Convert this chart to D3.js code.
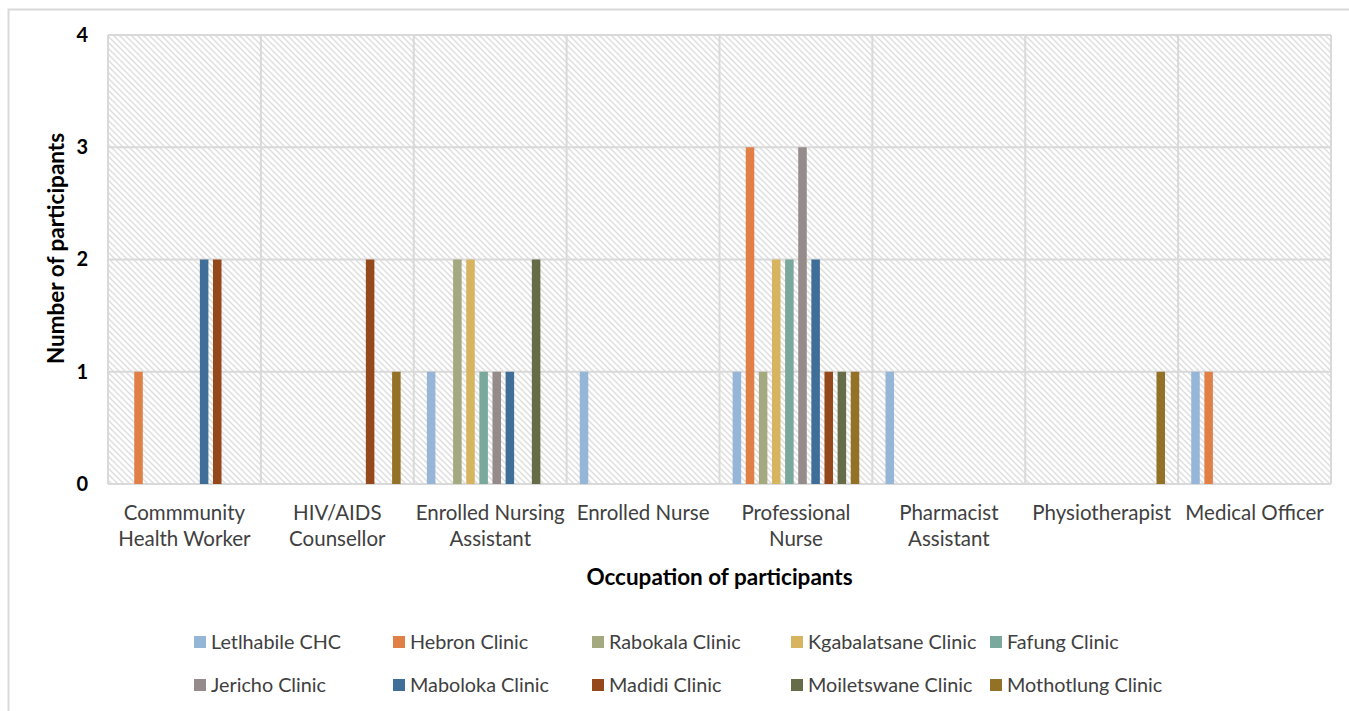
<!DOCTYPE html>
<html>
<head>
<meta charset="utf-8">
<script src="https://cdn.jsdelivr.net/npm/d3@7"></script>
<style>
  html, body { margin: 0; padding: 0; background: #ffffff; }
  svg { display: block; }
  text { font-family: Lato, "Open Sans", sans-serif; }
</style>
</head>
<body>
<svg id="chart" width="1349" height="711"></svg>
<script>
// Occupations along the x axis (labels wrap onto two lines)
const occupations = [
  "Commmunity Health Worker",
  "HIV/AIDS Counsellor",
  "Enrolled Nursing Assistant",
  "Enrolled Nurse",
  "Professional Nurse",
  "Pharmacist Assistant",
  "Physiotherapist",
  "Medical Officer"
];
const occupationLines = [
  ["Commmunity", "Health Worker"],
  ["HIV/AIDS", "Counsellor"],
  ["Enrolled Nursing", "Assistant"],
  ["Enrolled Nurse"],
  ["Professional", "Nurse"],
  ["Pharmacist", "Assistant"],
  ["Physiotherapist"],
  ["Medical Officer"]
];

// Clinics (one series each)
const clinics = [
  "Letlhabile CHC", "Hebron Clinic", "Rabokala Clinic", "Kgabalatsane Clinic", "Fafung Clinic",
  "Jericho Clinic", "Maboloka Clinic", "Madidi Clinic", "Moiletswane Clinic", "Mothotlung Clinic"
];
const clinicColors = [
  "#95b6d6", "#e07f46", "#a5a980", "#d7b45f", "#7aa89c",
  "#968b8b", "#3f6f98", "#95481c", "#666c48", "#937126"
];

// Participants per occupation, one array per clinic (same order as occupations)
const letlhabile   = [0, 0, 1, 1, 1, 1, 0, 1];
const hebron       = [1, 0, 0, 0, 3, 0, 0, 1];
const rabokala     = [0, 0, 2, 0, 1, 0, 0, 0];
const kgabalatsane = [0, 0, 2, 0, 2, 0, 0, 0];
const fafung       = [0, 0, 1, 0, 2, 0, 0, 0];
const jericho      = [0, 0, 1, 0, 3, 0, 0, 0];
const maboloka     = [2, 0, 1, 0, 2, 0, 0, 0];
const madidi       = [2, 2, 0, 0, 1, 0, 0, 0];
const moiletswane  = [0, 0, 2, 0, 1, 0, 0, 0];
const mothotlung   = [0, 1, 0, 0, 1, 0, 1, 0];
const seriesValues = [letlhabile, hebron, rabokala, kgabalatsane, fafung,
                      jericho, maboloka, madidi, moiletswane, mothotlung];

const yTicks = [0, 1, 2, 3, 4];
const yTitle = "Number of participants";
const xTitle = "Occupation of participants";

const svg = d3.select("#chart");
const plot = { left: 108, right: 1331, top: 35, bottom: 484 };

// Hatched plot background
const defs = svg.append("defs");
const pat = defs.append("pattern")
  .attr("id", "hatch")
  .attr("patternUnits", "userSpaceOnUse")
  .attr("width", 6).attr("height", 6);
pat.append("rect").attr("width", 6).attr("height", 6).attr("fill", "#ffffff");
pat.append("path")
  .attr("d", "M0,0 L6,6 M-1,5 L1,7 M5,-1 L7,1")
  .attr("stroke", "#dddddd").attr("stroke-width", 1.4);

// Chart frame (top and left edges visible)
svg.append("path")
  .attr("d", "M8.5,711 L8.5,9.5 L1349,9.5")
  .attr("fill", "none").attr("stroke", "#d9d9d9").attr("stroke-width", 2);

const x = d3.scaleBand().domain(occupations).range([plot.left, plot.right]).padding(0);
const xInner = d3.scaleBand().domain(clinics).range([0, x.bandwidth()])
  .paddingInner(0.35).paddingOuter(1.0);
const y = d3.scaleLinear().domain([0, 4]).range([plot.bottom, plot.top]);

svg.append("rect")
  .attr("x", plot.left).attr("y", plot.top)
  .attr("width", plot.right - plot.left).attr("height", plot.bottom - plot.top)
  .attr("fill", "url(#hatch)");

// Gridlines
const grid = svg.append("g").attr("stroke", "#d9d9d9").attr("stroke-width", 2);
grid.selectAll("line.h").data(yTicks).join("line")
  .attr("x1", plot.left).attr("x2", plot.right)
  .attr("y1", d => y(d)).attr("y2", d => y(d));
const vEdges = occupations.map(o => x(o)).concat([plot.right]);
grid.selectAll("line.v").data(vEdges).join("line")
  .attr("x1", d => d).attr("x2", d => d)
  .attr("y1", plot.top).attr("y2", plot.bottom);

// Bars
const groups = svg.append("g").selectAll("g")
  .data(occupations).join("g")
  .attr("transform", d => `translate(${x(d)},0)`);
groups.selectAll("rect")
  .data((occ, i) => clinics.map((c, j) => ({ clinic: c, value: seriesValues[j][i], color: clinicColors[j] })))
  .join("rect")
  .filter(d => d.value > 0)
  .attr("x", d => xInner(d.clinic))
  .attr("width", xInner.bandwidth())
  .attr("y", d => y(d.value))
  .attr("height", d => y(0) - y(d.value))
  .attr("fill", d => d.color);

// Y axis labels
const yAxis = d3.axisLeft(y).tickValues(yTicks).tickFormat(d3.format("d")).tickSize(0).tickPadding(20);
const yg = svg.append("g").attr("transform", `translate(${plot.left},0)`).call(yAxis);
yg.select(".domain").remove();
yg.selectAll("text")
  .attr("font-size", 20).attr("font-weight", "bold").attr("fill", "#000000")
  .style("font-family", "Lato, sans-serif");

// X axis labels
const xAxis = d3.axisBottom(x).tickSize(0).tickFormat("");
const xg = svg.append("g").attr("transform", `translate(0,${plot.bottom})`).call(xAxis);
xg.select(".domain").remove();
xg.selectAll(".tick").each(function(d, i) {
  const t = d3.select(this).append("text")
    .attr("text-anchor", "middle")
    .attr("fill", "#404040")
    .attr("font-size", 20.5);
  occupationLines[i].forEach((line, k) => {
    t.append("tspan").attr("x", 0).attr("y", 36 + k * 26).text(line);
  });
});

// Axis titles
svg.append("text")
  .attr("transform", `translate(64,${(plot.top + plot.bottom) / 2 - 11}) rotate(-90)`)
  .attr("text-anchor", "middle")
  .attr("font-size", 22.5).attr("font-weight", "bold").attr("fill", "#000000")
  .text(yTitle);
svg.append("text")
  .attr("x", (plot.left + plot.right) / 2).attr("y", 585)
  .attr("text-anchor", "middle")
  .attr("font-size", 22.5).attr("font-weight", "bold").attr("fill", "#000000")
  .text(xTitle);

// Legend: 5 columns x 2 rows
const legend = svg.append("g");
const legItems = legend.selectAll("g").data(clinics).join("g")
  .attr("transform", (d, i) => `translate(${194 + (i % 5) * 199},${642 + Math.floor(i / 5) * 43})`);
legItems.append("rect")
  .attr("x", 0).attr("y", -6).attr("width", 12).attr("height", 12)
  .attr("fill", (d, i) => clinicColors[i]);
legItems.append("text")
  .attr("x", 17).attr("y", 0).attr("dy", "0.35em")
  .attr("font-size", 19.8).attr("fill", "#404040")
  .text(d => d);
</script>
</body>
</html>
